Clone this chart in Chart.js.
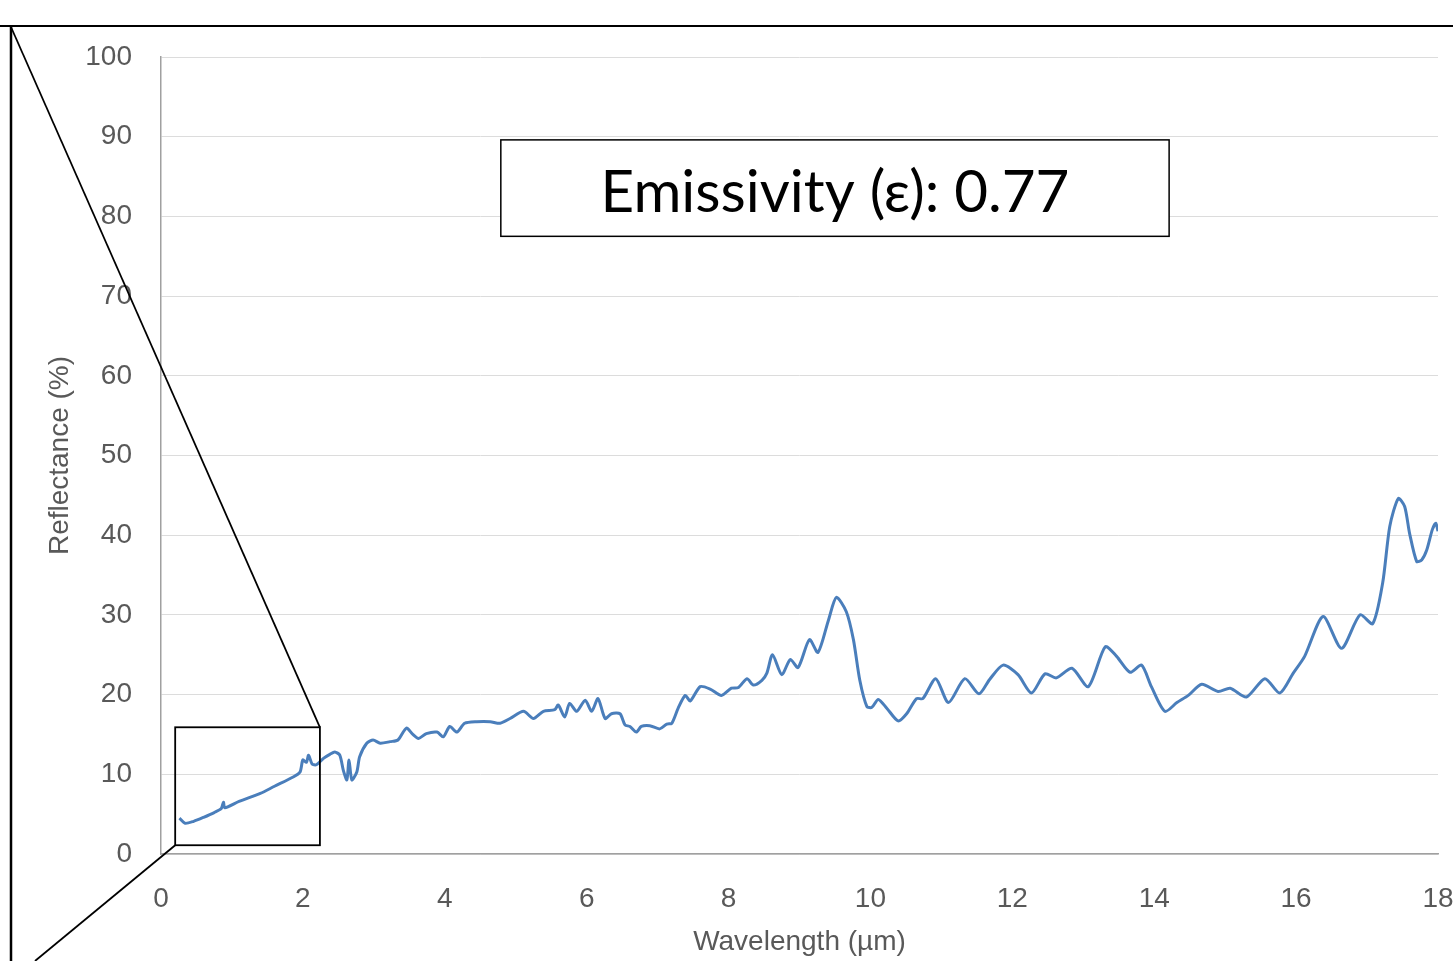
<!DOCTYPE html>
<html>
<head>
<meta charset="utf-8">
<script src="https://cdn.jsdelivr.net/npm/chart.js@4"></script>
<style>
html,body{margin:0;padding:0;background:#fff;}
#wrap{width:1453px;height:961px;position:relative;}
</style>
</head>
<body>
<div id="wrap"><canvas id="c"></canvas></div>
<script>
const wavelength = [
0.26,0.34,0.46,0.6,0.75,0.85,0.88,0.9,1.1,1.4,1.6,1.87,1.96,2.0,2.05,2.08,2.13,2.19,2.29,2.38,
2.45,2.52,2.57,2.62,2.65,2.69,2.76,2.80,2.90,2.99,3.09,3.23,3.34,3.46,3.55,3.63,3.74,3.89,3.98,4.07,
4.17,4.28,4.45,4.64,4.78,4.92,5.11,5.25,5.39,5.55,5.60,5.69,5.76,5.86,5.98,6.07,6.16,6.26,6.35,6.47,
6.54,6.61,6.70,6.77,6.89,7.03,7.13,7.20,7.29,7.39,7.46,7.60,7.74,7.90,8.04,8.14,8.26,8.35,8.47,8.54,
8.62,8.75,8.87,8.98,9.14,9.26,9.41,9.52,9.66,9.76,9.85,9.95,10.02,10.11,10.23,10.39,10.51,10.65,10.74,10.92,
11.10,11.33,11.53,11.68,11.87,12.08,12.27,12.46,12.62,12.84,13.07,13.31,13.47,13.66,13.82,13.96,14.15,14.32,14.48,14.67,
14.90,15.07,15.30,15.56,15.77,15.96,16.12,16.38,16.64,16.90,17.08,17.22,17.32,17.44,17.53,17.60,17.70,17.77,17.84,17.92,
17.97,18.0
];
const reflectance = [
4.5,3.85,4.1,4.6,5.2,5.7,6.5,5.8,6.6,7.6,8.5,9.7,10.3,11.8,11.5,12.4,11.3,11.2,12.0,12.5,
12.8,12.4,10.5,9.3,11.8,9.3,10.3,12.2,13.9,14.3,13.9,14.1,14.3,15.8,15.0,14.5,15.1,15.3,14.7,16.0,
15.3,16.4,16.6,16.6,16.4,17.0,17.9,17.0,17.9,18.1,18.7,17.2,18.9,17.9,19.3,17.9,19.5,17.0,17.6,17.6,
16.2,16.0,15.3,16.0,16.1,15.7,16.3,16.4,18.3,19.9,19.2,21.0,20.7,19.9,20.8,20.9,22.0,21.2,21.8,22.7,
25.0,22.5,24.4,23.4,26.9,25.3,29.4,32.2,30.4,26.9,21.8,18.5,18.4,19.4,18.3,16.7,17.6,19.5,19.5,22.0,
19.0,22.0,20.1,21.9,23.7,22.5,20.2,22.6,22.1,23.3,21.0,26.0,24.8,22.8,23.7,21.0,17.9,19.0,19.9,21.3,
20.4,20.8,19.7,22.0,20.2,22.7,24.8,29.8,25.8,30.0,28.9,34.0,41.1,44.6,43.6,40.2,36.7,36.9,38.1,40.7,
41.5,40.5
];
const xTicks = [0,2,4,6,8,10,12,14,16,18];
const yTicks = [0,10,20,30,40,50,60,70,80,90,100];
const xTitle = 'Wavelength (µm)';
const yTitle = 'Reflectance (%)';
const annotationText = 'Emissivity (ε): 0.77';
const zoomBoxX = [0.2, 2.24];
const zoomBoxY = [1.1, 15.9];
const labelBoxX = [4.79, 14.21];
const labelBoxY = [77.5, 89.6];

const points = wavelength.map((w,i)=>({x:w,y:reflectance[i]}));

const decor = {
  id:'decor',
  afterDraw(chart){
    const ctx = chart.ctx, sx = chart.scales.x, sy = chart.scales.y;
    const W = chart.width, H = chart.height;
    ctx.save();
    ctx.strokeStyle = '#000';
    ctx.lineCap = 'butt';
    function line(a,b,c,d,w){ctx.lineWidth=w;ctx.beginPath();ctx.moveTo(a,b);ctx.lineTo(c,d);ctx.stroke();}
    line(0,26,W,26,2);
    line(11,26,11,H,2.5);
    const bx0 = sx.getPixelForValue(zoomBoxX[0]), bx1 = sx.getPixelForValue(zoomBoxX[1]);
    const by0 = sy.getPixelForValue(zoomBoxY[1]), by1 = sy.getPixelForValue(zoomBoxY[0]);
    ctx.lineWidth = 1.8;
    ctx.strokeRect(bx0, by0, bx1-bx0, by1-by0);
    line(11,27,bx1,by0,1.8);
    line(bx0,by1,35,H,1.8);
    const lx0 = sx.getPixelForValue(labelBoxX[0]), lx1 = sx.getPixelForValue(labelBoxX[1]);
    const ly0 = sy.getPixelForValue(labelBoxY[1]), ly1 = sy.getPixelForValue(labelBoxY[0]);
    ctx.fillStyle='#fff';
    ctx.fillRect(lx0,ly0,lx1-lx0,ly1-ly0);
    ctx.lineWidth = 1.5;
    ctx.strokeRect(lx0, ly0, lx1-lx0, ly1-ly0);
    ctx.fillStyle = '#000';
    let fs = 60;
    ctx.font = fs+'px Lato';
    const mw = ctx.measureText(annotationText).width;
    fs = fs*469/mw;
    ctx.font = fs+'px Lato';
    ctx.textAlign='center';
    ctx.textBaseline='alphabetic';
    ctx.fillText(annotationText,(lx0+lx1)/2, ly0 + (ly1-ly0)*0.745);
    ctx.restore();
  }
};

new Chart(document.getElementById('c'), {
  type:'scatter',
  data:{datasets:[{
    data:points,
    showLine:true,
    borderColor:'#4a7ebb',
    borderWidth:3,
    pointRadius:0,
    tension:0.25,
    fill:false
  }]},
  options:{
    responsive:true,
    maintainAspectRatio:false,
    animation:false,
    events:[],
    layout:{padding:{left:0,top:57,right:15,bottom:0}},
    plugins:{legend:{display:false},tooltip:{enabled:false}},
    scales:{
      x:{
        type:'linear', min:0, max:18,
        afterBuildTicks(s){ s.ticks = xTicks.map(v=>({value:v})); },
        afterFit(s){ s.height = 107; s.paddingLeft = 0; s.paddingRight = 0; },
        grid:{display:false, drawTicks:false},
        border:{display:true,color:'#a0a0a0',width:1.5},
        ticks:{color:'#595959',font:{family:'Liberation Sans',size:28},padding:28,maxRotation:0,autoSkip:false},
        title:{display:true,text:xTitle,color:'#595959',font:{family:'Liberation Sans',size:28},padding:{top:0,bottom:2}}
      },
      y:{
        type:'linear', min:0, max:100,
        afterBuildTicks(s){ s.ticks = yTicks.map(v=>({value:v})); },
        afterFit(s){ s.width = 161; s.paddingTop = 0; s.paddingBottom = 0; },
        grid:{color:'#dcdcdc',lineWidth:1,drawTicks:false},
        border:{display:true,color:'#a0a0a0',width:1.5},
        ticks:{color:'#595959',font:{family:'Liberation Sans',size:28},padding:29,autoSkip:false},
        title:{display:true,text:yTitle,color:'#595959',font:{family:'Liberation Sans',size:28},padding:{top:43,bottom:0}}
      }
    }
  },
  plugins:[decor]
});
</script>
</body>
</html>
